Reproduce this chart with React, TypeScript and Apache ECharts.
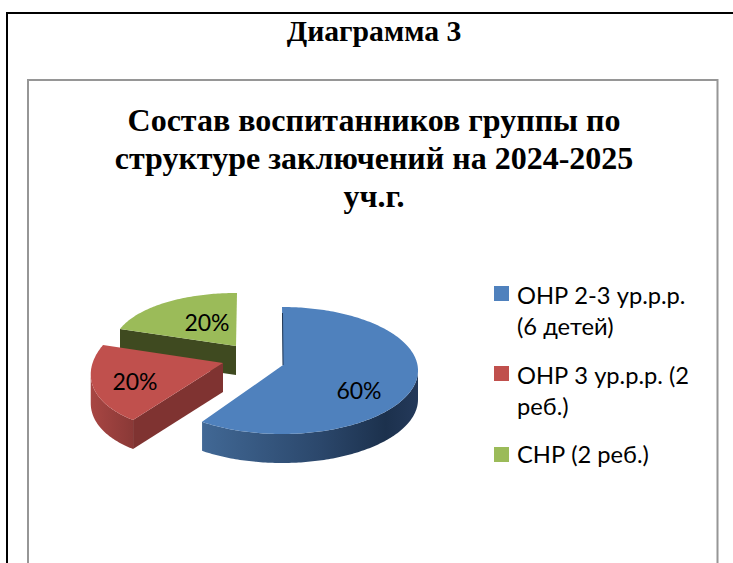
import React, { useEffect, useRef } from "react";
import * as echarts from "echarts";

const pageHeading = "Диаграмма 3";
const chartTitle = "Состав воспитанников группы по\nструктуре заключений на 2024-2025\nуч.г.";
const categories = ["ОНР 2-3 ур.р.р.\n(6 детей)", "ОНР 3 ур.р.р. (2\nреб.)", "СНР (2 реб.)"];
const childCounts = [6, 2, 2];

const topColors = ["#4f81bd", "#c0504d", "#9bbb59"];
const cutColors = ["#1f3552", "#7f3331", "#3f4a20"];
const wallStops = [
  [[0, "#416895"], [0.55, "#2b476b"], [0.85, "#1c314d"], [1, "#24395a"]],
  [[0, "#a84643"], [1, "#8a3937"]],
  [[0, "#3f4a20"], [1, "#3f4a20"]],
];
// Projected ellipse of each exploded slice: centre, apex and projection matrix.
const sliceGeometry = [
  { cx: 282, cy: 370.5, ax: 283, ay: 365, a: 136, b: 0, c: 0, d: 63.5, lx: 359, ly: 390, z: 30 },
  { cx: 223, cy: 363, ax: 223, ay: 363, a: 131.3, b: -15.8, c: -3.2, d: 68.1, lx: 135, ly: 381, z: 20 },
  { cx: 236, cy: 346, ax: 236, ay: 346, a: 122.3, b: -1, c: 0.6, d: 53, lx: 207, ly: 322, z: 10 },
];
const pieDepth = 29;
const legendRows = [
  { box: 293.5, text: 293 },
  { box: 373.5, text: 373 },
  { box: 454.5, text: 452 },
];

function renderSlice(params: any, api: any) {
  const i = params.dataIndex;
  const total = childCounts.reduce((s, v) => s + v, 0);
  const before = childCounts.slice(0, i).reduce((s, v) => s + v, 0);
  const value = api.value(0) as number;
  const start = (before / total) * 360;
  const end = ((before + value) / total) * 360;
  const g = sliceGeometry[i];
  const at = (deg: number) => {
    const r = (deg * Math.PI) / 180;
    const u = Math.sin(r);
    const v = -Math.cos(r);
    return [g.cx + g.a * u + g.b * v, g.cy + g.c * u + g.d * v];
  };
  const arc: number[][] = [];
  for (let t = start; t <= end + 1e-6; t += 1) arc.push(at(t));
  const top = [[g.ax, g.ay], ...arc];
  const children: any[] = [];

  // Outer wall: the part of the rim that moves leftwards when going clockwise faces the viewer.
  const rim = arc.filter(
    (p, k) => (k > 0 && p[0] < arc[k - 1][0]) || (k < arc.length - 1 && arc[k + 1][0] < p[0])
  );
  if (rim.length > 1) {
    const lower = rim.map((p) => [p[0], p[1] + pieDepth]).reverse();
    children.push({
      type: "polygon",
      z2: g.z,
      shape: { points: [...rim, ...lower] },
      style: {
        fill: {
          type: "linear",
          x: 0,
          y: 0,
          x2: 1,
          y2: 0,
          colorStops: wallStops[i].map((s: any) => ({ offset: s[0], color: s[1] })),
        },
      },
    });
  }
  // Cut face that looks towards the viewer.
  if (i > 0) {
    const edge = arc[0];
    children.push({
      type: "polygon",
      z2: g.z + 1,
      shape: {
        points: [
          [g.ax, g.ay],
          edge,
          [edge[0], edge[1] + pieDepth],
          [g.ax, g.ay + pieDepth],
        ],
      },
      style: { fill: cutColors[i] },
    });
  } else {
    // Thin sliver of the inner face seen along the 12 o'clock cut.
    const rimTop = at(start);
    children.push({
      type: "line",
      z2: g.z + 3,
      shape: { x1: rimTop[0] + 0.5, y1: rimTop[1] + 6, x2: g.ax, y2: g.ay },
      style: { stroke: cutColors[0], lineWidth: 1 },
    });
  }
  children.push({
    type: "polygon",
    z2: g.z + 2,
    shape: { points: top },
    style: { fill: topColors[i] },
  });
  children.push({
    type: "text",
    z2: 50,
    style: {
      text: `${Math.round((value / total) * 100)}%`,
      x: g.lx,
      y: g.ly,
      fill: "#000",
      font: '23px Lato, "Open Sans", sans-serif',
      align: "center",
      verticalAlign: "middle",
    },
  });
  return { type: "group", children };
}

export default function App() {
  const ref = useRef<HTMLDivElement>(null);
  useEffect(() => {
    const chart = echarts.init(ref.current!, null, { renderer: "svg", width: 733, height: 563 });
    const legendGraphics: any[] = [];
    categories.forEach((name, i) => {
      legendGraphics.push({
        type: "rect",
        x: 494,
        y: legendRows[i].box - 7.5,
        shape: { width: 15, height: 15 },
        style: { fill: topColors[i] },
      });
      legendGraphics.push({
        type: "text",
        x: 517,
        y: legendRows[i].text - 13,
        style: {
          text: name,
          fill: "#000",
          font: '23.7px Lato, "Open Sans", sans-serif',
          lineHeight: 30.5,
          align: "left",
          verticalAlign: "top",
        },
      });
    });
    chart.setOption({
      animation: false,
      backgroundColor: "#fff",
      title: [
        {
          text: pageHeading,
          left: 369,
          top: 11,
          textAlign: "center",
          textStyle: { fontFamily: "Liberation Serif", fontWeight: "bold", fontSize: 29.7, color: "#000" },
        },
        {
          text: chartTitle,
          left: 369,
          top: 96,
          textAlign: "center",
          textStyle: {
            fontFamily: "Liberation Serif",
            fontWeight: "bold",
            fontSize: 32,
            lineHeight: 38,
            color: "#000",
          },
        },
      ],
      graphic: [
        {
          type: "polyline",
          shape: { points: [[7, 563], [7, 13], [733, 13]] },
          style: { stroke: "#000", lineWidth: 2, fill: "none" },
        },
        {
          type: "polyline",
          shape: { points: [[28, 563], [28, 80], [717.5, 80], [717.5, 563]] },
          style: { stroke: "#969696", lineWidth: 2, fill: "none" },
        },
        ...legendGraphics,
      ],
      series: [
        {
          type: "custom",
          coordinateSystem: "none",
          renderItem: renderSlice,
          data: childCounts.map((v, i) => ({ name: categories[i], value: [v] })),
          encode: { value: 0 },
          silent: true,
        },
      ],
    });
    return () => chart.dispose();
  }, []);
  return <div ref={ref} style={{ position: "fixed", left: 0, top: 0, width: 733, height: 563 }} />;
}
